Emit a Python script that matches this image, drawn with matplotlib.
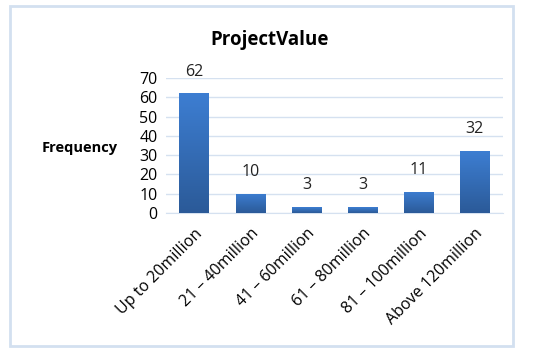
import matplotlib
matplotlib.use("Agg")
import matplotlib.pyplot as plt
import numpy as np
from matplotlib.patches import Rectangle
from matplotlib.colors import LinearSegmentedColormap

categories = ["Up to 20million", "21 \u2013 40million", "41 \u2013 60million",
              "61 \u2013 80million", "81 \u2013 100million", "Above 120million"]
values = [62, 10, 3, 3, 11, 32]
yticks = [0, 10, 20, 30, 40, 50, 60, 70]

plt.rcParams['font.family'] = ['Open Sans', 'DejaVu Sans']

W, H = 539, 356
fig = plt.figure(figsize=(W/100, H/100), dpi=100)
fig.patch.set_facecolor("white")

# outer border
fig.add_artist(Rectangle((10/W, 1-346/H), 503/W, 340/H, transform=fig.transFigure,
                         fill=False, edgecolor="#D3E0F0", linewidth=2))

ax = fig.add_axes([166/W, 1-213/H, 337/W, 135/H])
x = np.arange(len(categories))
bw = 0.52
bars = ax.bar(x, values, width=bw, color="none", edgecolor="none", zorder=3)

grad = np.linspace(0, 1, 256).reshape(-1, 1)
cmap = LinearSegmentedColormap.from_list("g", ["#2B5A98", "#3D7ED2"])
for b in bars:
    x0, y0 = b.get_x(), b.get_y()
    w, h = b.get_width(), b.get_height()
    im = ax.imshow(grad, extent=[x0, x0+w, y0, y0+h], origin="lower", cmap=cmap,
                   aspect="auto", zorder=3)
    im.set_clip_path(b)
    ax.annotate(str(int(h)), (x0 + w/2, h), xytext=(0, 10), textcoords="offset points",
                ha="center", va="bottom", fontsize=11.5, color="#222222")

ax.set_xlim(-0.5, len(categories)-0.5)
ax.set_ylim(0, 70)
ax.set_yticks(yticks)
ax.set_yticklabels([str(t) for t in yticks], fontsize=11.5)
ax.set_xticks(x)
ax.set_xticklabels(categories, rotation=45, ha="right", rotation_mode="anchor",
                   fontsize=11.5)
ax.tick_params(axis="both", length=0, pad=6)
ax.tick_params(axis="x", pad=9)
ax.grid(axis="y", color="#D5E1F0", linewidth=1, zorder=0)
ax.set_axisbelow(True)
for s in ax.spines.values():
    s.set_visible(False)
ax.spines["bottom"].set_visible(True)
ax.spines["bottom"].set_color("#D5E1F0")

fig.text(270/W, 1-40/H, "ProjectValue", ha="center", va="center", fontsize=13.5,
         fontweight="bold")
fig.text(42/W, 1-148/H, "Frequency", ha="left", va="center", fontsize=10.5,
         fontweight="bold")

fig.savefig("out.png", dpi=100)
